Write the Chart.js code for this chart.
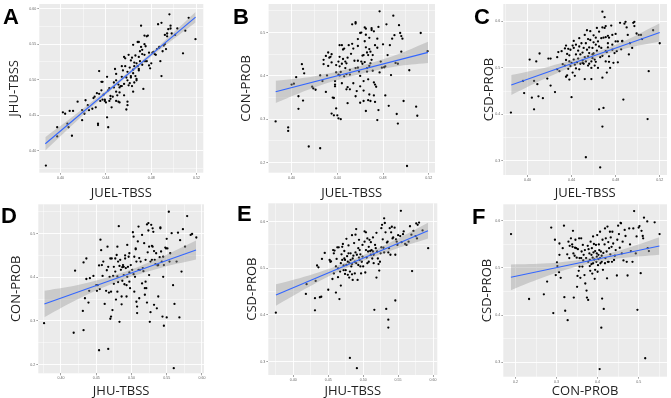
<!DOCTYPE html>
<html><head><meta charset="utf-8">
<script src="https://cdn.jsdelivr.net/npm/chart.js@4.4.1/dist/chart.umd.min.js"></script>
<style>
html,body{margin:0;padding:0;background:#fff;width:671px;height:398px;overflow:hidden}
canvas{position:absolute;left:0;top:0}
.lab{position:absolute;font-family:"Liberation Sans",Arial,sans-serif;font-weight:bold;font-size:22px;line-height:1;color:#000}
</style></head><body>
<canvas id="cA" width="671" height="398"></canvas>
<canvas id="cB" width="671" height="398"></canvas>
<canvas id="cC" width="671" height="398"></canvas>
<canvas id="cD" width="671" height="398"></canvas>
<canvas id="cE" width="671" height="398"></canvas>
<canvas id="cF" width="671" height="398"></canvas>
<div class="lab" style="left:3px;top:6px">A</div>
<div class="lab" style="left:233px;top:6px">B</div>
<div class="lab" style="left:474px;top:6px">C</div>
<div class="lab" style="left:1px;top:205px">D</div>
<div class="lab" style="left:237px;top:203px">E</div>
<div class="lab" style="left:472px;top:206px">F</div>
<script>
// Panel A: JUEL-TBSS (x) vs JHU-TBSS (y)
const ptsA = [[.387,.379],[.397,.420],[.397,.433],[.402,.454],[.404,.452],[.406,.438],[.407,.433],[.408,.456],[.411,.456],[.410,.421],[.415,.469],[.419,.457],[.419,.443],[.421,.452],[.422,.471],[.424,.464],[.425,.457],[.428,.459],[.429,.474],[.430,.476],[.431,.461],[.433,.438],[.433,.436],[.432,.481],[.434,.480],[.434,.512],[.435,.470],[.436,.485],[.436,.497],[.437,.472],[.437,.497],[.438,.479],[.439,.472],[.439,.470],[.440,.468],[.441,.504],[.441,.447],[.442,.433],[.442,.485],[.443,.488],[.443,.470],[.444,.473],[.444,.477],[.445,.461],[.446,.476],[.447,.496],[.447,.489],[.448,.515],[.449,.508],[.449,.499],[.449,.483],[.449,.470],[.450,.478],[.451,.469],[.451,.493],[.452,.468],[.452,.482],[.452,.489],[.453,.491],[.454,.504],[.454,.519],[.454,.491],[.455,.513],[.456,.494],[.456,.478],[.456,.532],[.457,.530],[.457,.519],[.458,.503],[.458,.458],[.459,.511],[.459,.499],[.459,.469],[.459,.464],[.460,.492],[.460,.535],[.461,.495],[.461,.517],[.462,.503],[.462,.527],[.462,.505],[.463,.531],[.463,.491],[.464,.549],[.464,.514],[.464,.483],[.464,.509],[.465,.519],[.465,.524],[.465,.496],[.466,.534],[.466,.505],[.467,.523],[.467,.499],[.467,.501],[.468,.553],[.468,.519],[.469,.532],[.469,.513],[.469,.553],[.469,.515],[.470,.540],[.470,.526],[.471,.546],[.471,.576],[.472,.521],[.472,.536],[.472,.542],[.473,.487],[.474,.526],[.474,.562],[.474,.550],[.474,.535],[.475,.526],[.475,.547],[.476,.526],[.476,.561],[.477,.562],[.478,.538],[.478,.520],[.479,.516],[.480,.523],[.481,.538],[.482,.539],[.483,.536],[.484,.535],[.485,.543],[.486,.578],[.487,.546],[.487,.545],[.488,.526],[.489,.505],[.489,.580],[.490,.540],[.491,.548],[.492,.550],[.492,.563],[.493,.543],[.494,.561],[.494,.565],[.495,.571],[.496,.592],[.497,.576],[.497,.572],[.498,.565],[.501,.563],[.503,.572],[.508,.537],[.510,.569],[.513,.587],[.519,.557]];
const fitA_x = [.3865,.5191], fitA_y = [.4097,.5880];
const bandA_x = [.3865,.420,.455,.490,.5191], bandA_lo = [.4004,.4503,.4994,.5454,.5806], bandA_hi = [.4190,.4593,.5044,.5524,.5954];

// Panel B: JUEL-TBSS (x) vs CON-PROB (y)
const ptsB = [[.386,.295],[.397,.281],[.397,.273],[.400,.380],[.402,.382],[.404,.397],[.409,.427],[.410,.416],[.411,.406],[.406,.353],[.406,.324],[.410,.343],[.415,.237],[.418,.375],[.419,.371],[.421,.368],[.425,.233],[.425,.401],[.427,.388],[.428,.437],[.428,.427],[.430,.446],[.430,.363],[.431,.401],[.432,.454],[.432,.423],[.433,.442],[.434,.444],[.435,.450],[.435,.431],[.436,.350],[.437,.349],[.435,.313],[.437,.309],[.438,.388],[.438,.380],[.438,.376],[.439,.425],[.439,.325],[.439,.408],[.440,.309],[.441,.302],[.441,.433],[.441,.403],[.442,.471],[.442,.444],[.442,.422],[.442,.401],[.443,.300],[.443,.409],[.444,.383],[.444,.471],[.444,.428],[.445,.439],[.445,.461],[.446,.463],[.446,.399],[.447,.433],[.447,.418],[.448,.429],[.448,.404],[.448,.369],[.449,.337],[.449,.374],[.449,.442],[.450,.471],[.451,.414],[.451,.369],[.451,.403],[.452,.451],[.453,.519],[.453,.474],[.454,.383],[.454,.463],[.455,.435],[.456,.524],[.456,.521],[.456,.418],[.456,.353],[.457,.365],[.458,.435],[.458,.419],[.458,.469],[.458,.485],[.459,.410],[.460,.376],[.460,.338],[.460,.400],[.460,.499],[.461,.433],[.461,.500],[.462,.428],[.462,.447],[.463,.388],[.463,.448],[.463,.342],[.463,.366],[.464,.512],[.464,.432],[.464,.480],[.465,.466],[.465,.495],[.465,.319],[.465,.509],[.466,.418],[.466,.454],[.466,.410],[.467,.448],[.467,.344],[.467,.392],[.468,.423],[.468,.462],[.468,.357],[.468,.488],[.469,.429],[.469,.342],[.469,.456],[.470,.510],[.470,.437],[.470,.506],[.471,.412],[.471,.448],[.472,.355],[.472,.385],[.472,.503],[.473,.380],[.473,.471],[.473,.340],[.474,.375],[.475,.298],[.475,.465],[.475,.486],[.476,.513],[.476,.321],[.477,.549],[.477,.408],[.478,.433],[.479,.419],[.480,.473],[.481,.420],[.482,.355],[.482,.422],[.483,.519],[.484,.448],[.485,.331],[.486,.471],[.487,.402],[.488,.486],[.489,.539],[.490,.494],[.491,.430],[.492,.312],[.493,.290],[.493,.428],[.494,.517],[.495,.499],[.496,.456],[.496,.492],[.497,.486],[.498,.342],[.501,.192],[.503,.413],[.509,.329],[.510,.308],[.513,.499],[.519,.457]];
const fitB_x = [.386,.5194], fitB_y = [.3632,.4543];
const bandB_x = [.386,.420,.455,.490,.5194], bandB_lo = [.3377,.3734,.4008,.4212,.4296], bandB_hi = [.3887,.3994,.4198,.4472,.4790];

// Panel C: JUEL-TBSS (x) vs CSD-PROB (y)
const ptsC = [[.385,.404],[.402,.518],[.408,.514],[.411,.531],[.397,.446],[.396,.472],[.404,.436],[.406,.411],[.406,.472],[.409,.465],[.410,.439],[.414,.435],[.418,.477],[.419,.520],[.421,.520],[.421,.462],[.425,.448],[.427,.523],[.427,.497],[.428,.534],[.429,.493],[.431,.536],[.432,.508],[.434,.542],[.434,.505],[.435,.517],[.435,.481],[.435,.548],[.436,.484],[.436,.530],[.437,.541],[.437,.498],[.438,.527],[.438,.514],[.438,.475],[.439,.504],[.439,.539],[.440,.437],[.440,.511],[.441,.548],[.441,.490],[.442,.518],[.442,.543],[.442,.558],[.443,.507],[.443,.483],[.444,.529],[.444,.499],[.444,.550],[.445,.512],[.446,.537],[.446,.520],[.447,.564],[.447,.497],[.447,.546],[.448,.509],[.448,.529],[.449,.553],[.450,.511],[.450,.533],[.450,.516],[.451,.509],[.451,.543],[.452,.476],[.452,.523],[.452,.571],[.453,.553],[.453,.308],[.453,.514],[.454,.581],[.454,.539],[.455,.562],[.455,.525],[.455,.505],[.456,.509],[.456,.544],[.456,.532],[.457,.579],[.457,.560],[.458,.500],[.458,.476],[.458,.514],[.459,.543],[.459,.529],[.459,.521],[.460,.570],[.460,.555],[.460,.531],[.461,.518],[.461,.505],[.462,.565],[.462,.550],[.462,.513],[.463,.537],[.463,.586],[.464,.557],[.464,.500],[.465,.546],[.465,.411],[.465,.578],[.466,.523],[.466,.286],[.467,.564],[.467,.543],[.468,.479],[.468,.587],[.468,.526],[.468,.374],[.468,.621],[.469,.414],[.469,.565],[.470,.609],[.470,.586],[.471,.536],[.471,.566],[.471,.514],[.471,.590],[.472,.490],[.472,.534],[.473,.553],[.473,.569],[.473,.544],[.474,.525],[.474,.513],[.474,.565],[.475,.500],[.476,.591],[.477,.571],[.477,.539],[.477,.550],[.478,.511],[.479,.532],[.480,.573],[.480,.557],[.481,.536],[.482,.512],[.482,.557],[.484,.597],[.485,.540],[.486,.557],[.486,.558],[.487,.432],[.488,.595],[.489,.599],[.490,.587],[.491,.571],[.492,.529],[.493,.553],[.495,.543],[.496,.597],[.497,.590],[.497,.599],[.499,.574],[.501,.571],[.503,.571],[.504,.562],[.509,.390],[.510,.493],[.514,.581],[.520,.553]];
const fitC_x = [.3853,.5200], fitC_y = [.4631,.5763];
const bandC_x = [.3853,.420,.455,.490,.5200], bandC_lo = [.4416,.4813,.5152,.5421,.5568], bandC_hi = [.4846,.5033,.5282,.5601,.5958];

// Panel D: JHU-TBSS (x) vs CON-PROB (y)
const ptsD = [[.376,.295],[.418,.273],[.420,.415],[.431,.323],[.432,.434],[.432,.279],[.434,.352],[.436,.396],[.436,.443],[.439,.342],[.440,.369],[.441,.398],[.446,.403],[.450,.382],[.451,.369],[.452,.382],[.454,.427],[.454,.233],[.455,.373],[.456,.486],[.457,.462],[.458,.428],[.459,.403],[.460,.436],[.462,.339],[.464,.369],[.465,.416],[.466,.470],[.467,.236],[.467,.424],[.468,.365],[.469,.401],[.470,.443],[.470,.305],[.471,.310],[.471,.367],[.472,.443],[.473,.325],[.474,.403],[.475,.385],[.475,.424],[.477,.413],[.477,.443],[.478,.349],[.479,.451],[.480,.402],[.480,.470],[.480,.367],[.481,.436],[.481,.389],[.482,.517],[.483,.426],[.483,.298],[.484,.440],[.485,.417],[.486,.338],[.486,.356],[.487,.423],[.487,.392],[.488,.428],[.489,.405],[.489,.424],[.490,.384],[.491,.443],[.491,.450],[.492,.421],[.493,.356],[.493,.382],[.494,.474],[.494,.401],[.495,.424],[.496,.447],[.497,.390],[.497,.411],[.497,.455],[.498,.375],[.499,.428],[.501,.417],[.502,.503],[.503,.493],[.503,.407],[.504,.447],[.504,.367],[.505,.401],[.506,.466],[.506,.464],[.507,.436],[.507,.344],[.508,.318],[.508,.333],[.509,.482],[.510,.516],[.510,.417],[.511,.352],[.511,.444],[.512,.417],[.513,.436],[.515,.497],[.515,.386],[.516,.421],[.517,.414],[.518,.478],[.519,.375],[.519,.360],[.520,.440],[.520,.390],[.521,.375],[.522,.521],[.522,.342],[.523,.457],[.524,.507],[.524,.524],[.525,.470],[.525,.405],[.526,.298],[.527,.320],[.527,.436],[.528,.520],[.529,.472],[.529,.440],[.530,.470],[.530,.512],[.531,.504],[.532,.460],[.532,.337],[.533,.440],[.534,.430],[.535,.455],[.536,.329],[.537,.427],[.538,.356],[.538,.428],[.540,.446],[.541,.514],[.541,.512],[.542,.459],[.543,.436],[.544,.310],[.545,.401],[.545,.447],[.546,.289],[.546,.428],[.548,.468],[.549,.466],[.550,.488],[.550,.308],[.551,.466],[.553,.550],[.554,.436],[.555,.455],[.557,.501],[.559,.382],[.560,.192],[.561,.339],[.564,.436],[.566,.502],[.568,.308],[.569,.485],[.571,.413],[.573,.510],[.576,.470],[.579,.540],[.584,.497],[.586,.499],[.592,.491]];
const fitD_x = [.3764,.5916], fitD_y = [.3389,.4625];
const bandD_x = [.3764,.430,.485,.540,.5916], bandD_lo = [.3087,.3547,.3928,.4209,.4407], bandD_hi = [.3691,.3847,.4098,.4449,.4843];

// Panel E: JHU-TBSS (x) vs CSD-PROB (y)
const ptsE = [[.375,.405],[.418,.445],[.419,.466],[.431,.436],[.431,.410],[.432,.473],[.434,.506],[.436,.502],[.438,.438],[.440,.439],[.441,.520],[.445,.533],[.450,.454],[.452,.518],[.453,.514],[.454,.515],[.456,.477],[.457,.539],[.458,.489],[.458,.532],[.459,.538],[.461,.448],[.461,.504],[.462,.520],[.463,.545],[.464,.500],[.464,.481],[.465,.545],[.466,.434],[.467,.493],[.468,.511],[.468,.463],[.469,.530],[.470,.546],[.470,.518],[.471,.552],[.472,.506],[.472,.496],[.473,.537],[.473,.521],[.474,.488],[.474,.518],[.475,.496],[.476,.563],[.476,.507],[.477,.526],[.478,.514],[.478,.486],[.479,.532],[.479,.549],[.480,.480],[.480,.512],[.481,.493],[.481,.308],[.482,.532],[.482,.518],[.483,.504],[.484,.571],[.484,.509],[.484,.487],[.485,.521],[.485,.475],[.486,.527],[.487,.554],[.488,.514],[.488,.489],[.489,.572],[.489,.534],[.490,.584],[.490,.511],[.491,.286],[.491,.529],[.492,.475],[.493,.543],[.493,.507],[.494,.523],[.494,.561],[.495,.518],[.495,.539],[.496,.504],[.496,.530],[.497,.489],[.498,.514],[.499,.550],[.499,.525],[.500,.504],[.502,.579],[.502,.557],[.503,.491],[.504,.539],[.504,.577],[.505,.523],[.506,.564],[.506,.511],[.507,.536],[.508,.546],[.508,.514],[.509,.561],[.510,.537],[.511,.556],[.511,.529],[.512,.539],[.513,.521],[.514,.566],[.514,.536],[.515,.529],[.515,.511],[.516,.411],[.517,.550],[.518,.543],[.519,.480],[.519,.576],[.520,.536],[.521,.521],[.522,.509],[.523,.495],[.524,.514],[.525,.532],[.526,.545],[.526,.586],[.527,.593],[.528,.562],[.529,.544],[.530,.607],[.530,.534],[.531,.597],[.532,.577],[.533,.413],[.534,.555],[.535,.557],[.536,.534],[.536,.390],[.536,.373],[.537,.543],[.538,.586],[.539,.529],[.540,.577],[.541,.589],[.542,.564],[.543,.566],[.545,.587],[.546,.529],[.546,.431],[.547,.562],[.548,.557],[.549,.550],[.550,.571],[.553,.569],[.554,.623],[.555,.556],[.557,.573],[.558,.579],[.560,.552],[.562,.550],[.565,.557],[.567,.590],[.569,.572],[.570,.494],[.572,.580],[.575,.569],[.576,.596],[.577,.564],[.578,.593],[.580,.598],[.585,.581],[.593,.543]];
const fitE_x = [.3752,.5928], fitE_y = [.4428,.5806];
const bandE_x = [.3752,.430,.485,.540,.5928], bandE_lo = [.4200,.4665,.5063,.5382,.5638], bandE_hi = [.4656,.4885,.5183,.5562,.5974];

// Panel F: CON-PROB (x) vs CSD-PROB (y)
const ptsF = [[.189,.572],[.233,.434],[.269,.444],[.277,.471],[.287,.586],[.292,.404],[.296,.560],[.298,.485],[.301,.512],[.302,.504],[.306,.491],[.307,.552],[.307,.528],[.310,.479],[.315,.542],[.318,.590],[.319,.438],[.321,.409],[.326,.529],[.327,.389],[.329,.556],[.331,.521],[.332,.547],[.335,.563],[.338,.550],[.339,.545],[.340,.579],[.341,.531],[.342,.437],[.344,.526],[.345,.543],[.346,.560],[.348,.542],[.349,.522],[.350,.460],[.351,.483],[.352,.540],[.354,.494],[.355,.563],[.356,.503],[.356,.521],[.358,.479],[.360,.521],[.360,.563],[.361,.535],[.363,.503],[.364,.549],[.365,.516],[.366,.528],[.368,.485],[.369,.538],[.370,.467],[.372,.521],[.373,.452],[.374,.437],[.376,.547],[.377,.513],[.377,.432],[.378,.540],[.380,.531],[.381,.517],[.381,.504],[.382,.494],[.383,.556],[.385,.528],[.385,.508],[.386,.542],[.387,.488],[.388,.522],[.389,.510],[.389,.567],[.390,.533],[.391,.551],[.392,.518],[.393,.477],[.394,.496],[.394,.536],[.396,.549],[.397,.513],[.398,.524],[.398,.531],[.399,.570],[.400,.492],[.401,.506],[.402,.519],[.402,.528],[.403,.550],[.404,.538],[.405,.285],[.406,.521],[.406,.577],[.407,.510],[.408,.535],[.409,.373],[.410,.513],[.410,.526],[.411,.435],[.412,.560],[.413,.496],[.414,.532],[.415,.413],[.417,.550],[.418,.584],[.418,.510],[.419,.521],[.420,.563],[.422,.535],[.423,.478],[.424,.588],[.425,.513],[.426,.555],[.427,.513],[.428,.542],[.430,.577],[.431,.529],[.432,.565],[.434,.545],[.435,.513],[.436,.577],[.438,.552],[.440,.517],[.442,.526],[.444,.538],[.447,.484],[.448,.560],[.450,.590],[.452,.572],[.454,.543],[.456,.596],[.457,.595],[.459,.531],[.461,.556],[.463,.516],[.466,.581],[.468,.568],[.471,.513],[.473,.484],[.477,.584],[.479,.550],[.481,.536],[.485,.513],[.487,.584],[.489,.621],[.493,.531],[.495,.567],[.497,.411],[.500,.586],[.502,.589],[.505,.489],[.507,.579],[.510,.568],[.511,.563],[.513,.607],[.516,.308],[.521,.599],[.522,.542],[.525,.536],[.539,.597],[.551,.572]];
const fitF_x = [.1887,.5506], fitF_y = [.4801,.5467];
const bandF_x = [.1887,.280,.370,.460,.5506], bandF_lo = [.4528,.4839,.5072,.5210,.5282], bandF_hi = [.5074,.5099,.5196,.5390,.5652];

const bgPlugin = {id:'bg', beforeDraw(ch){const a=ch.chartArea,c=ch.ctx;c.save();c.fillStyle='#EBEBEB';c.fillRect(a.left,a.top,a.right-a.left,a.bottom-a.top);c.restore();}};
const isMajor = (v, step) => Math.abs(v/step - Math.round(v/step)) < 1e-6;

function axis(min, max, step, major, dec, title, size, horiz){
  return {
    type:'linear', min:min, max:max,
    border:{display:false},
    grid:{
      color:'#ffffff',
      lineWidth: c => (c.tick && isMajor(c.tick.value, major)) ? 0.9 : 0.45,
      tickColor: c => (c.tick && isMajor(c.tick.value, major)) ? '#666666' : 'rgba(0,0,0,0)',
      tickLength:2, tickWidth:0.6
    },
    ticks:{stepSize:step, includeBounds:false, autoSkip:false, maxRotation:0, minRotation:0, padding:1,
      font:{family:'Liberation Sans', size:3.6}, color:'#666666',
      callback: v => isMajor(v, major) ? v.toFixed(dec) : ''},
    title:{display:true, text:title, color:'#222222', padding:0, font:{family:'Open Sans', size:13, lineHeight:1}},
    afterFit: s => { if (horiz) s.height = size; else s.width = size; s.paddingLeft=0; s.paddingRight=0; s.paddingTop=0; s.paddingBottom=0; }
  };
}
const xy = (xs, ys) => xs.map((x,i)=>({x:x, y:ys[i]}));

function panel(id, pts, fx, fy, bx, blo, bhi, pad, xs, ys){
  new Chart(document.getElementById(id), {
    type:'scatter',
    data:{datasets:[
      {data: pts.map(p=>({x:p[0], y:p[1]})), pointRadius:1.15, pointBackgroundColor:'#000', pointBorderWidth:0, borderColor:'#000', order:3},
      {type:'line', data: xy(bx, blo), borderColor:'rgba(0,0,0,0)', borderWidth:0, pointRadius:0, tension:0.4, fill:false, order:2},
      {type:'line', data: xy(bx, bhi), borderColor:'rgba(0,0,0,0)', borderWidth:0, pointRadius:0, tension:0.4, fill:'-1', backgroundColor:'rgba(153,153,153,0.4)', order:2},
      {type:'line', data: xy(fx, fy), borderColor:'#3366FF', borderWidth:1.1, pointRadius:0, fill:false, order:1}
    ]},
    options:{
      responsive:false, animation:false, events:[],
      plugins:{legend:{display:false}, tooltip:{enabled:false}},
      layout:{padding:pad},
      scales:{x:axis(...xs, true), y:axis(...ys, false)}
    },
    plugins:[bgPlugin]
  });
}

panel('cA', ptsA, fitA_x, fitA_y, bandA_x, bandA_lo, bandA_hi, {left:7.5, right:467.7, top:1.7, bottom:198.5},
  [.3812,.5259,.02,.04,2,'JUEL-TBSS',26.8], [.369,.6065,.025,.05,2,'JHU-TBSS',31.8]);
panel('cB', ptsB, fitB_x, fitB_y, bandB_x, bandB_lo, bandB_hi, {left:239.5, right:236, top:1.7, bottom:198.5},
  [.3796,.5255,.02,.04,2,'JUEL-TBSS',26.8], [.1765,.566,.05,.1,1,'CON-PROB',28.8]);
panel('cC', ptsC, fitC_x, fitC_y, bandC_x, bandC_lo, bandC_hi, {left:482.5, right:2.7, top:1.7, bottom:198.5},
  [.3781,.5266,.02,.04,2,'JUEL-TBSS',24.5], [.2698,.6374,.05,.1,1,'CSD-PROB',20.8]);
panel('cD', ptsD, fitD_x, fitD_y, bandD_x, bandD_lo, bandD_hi, {left:9.5, right:467, top:204.3, bottom:0},
  [.3678,.6029,.025,.05,2,'JHU-TBSS',24.7], [.1802,.567,.05,.1,1,'CON-PROB',28.8]);
panel('cE', ptsE, fitE_x, fitE_y, bandE_x, bandE_lo, bandE_hi, {left:245.5, right:233.7, top:203.3, bottom:0},
  [.3642,.6061,.025,.05,2,'JHU-TBSS',23], [.2714,.6392,.05,.1,1,'CSD-PROB',22.8]);
panel('cF', ptsF, fitF_x, fitF_y, bandF_x, bandF_lo, bandF_hi, {left:480.5, right:2.7, top:204.3, bottom:0},
  [.1702,.5691,.05,.1,1,'CON-PROB',21.3], [.2688,.6354,.05,.1,1,'CSD-PROB',22.8]);
</script>
</body></html>
